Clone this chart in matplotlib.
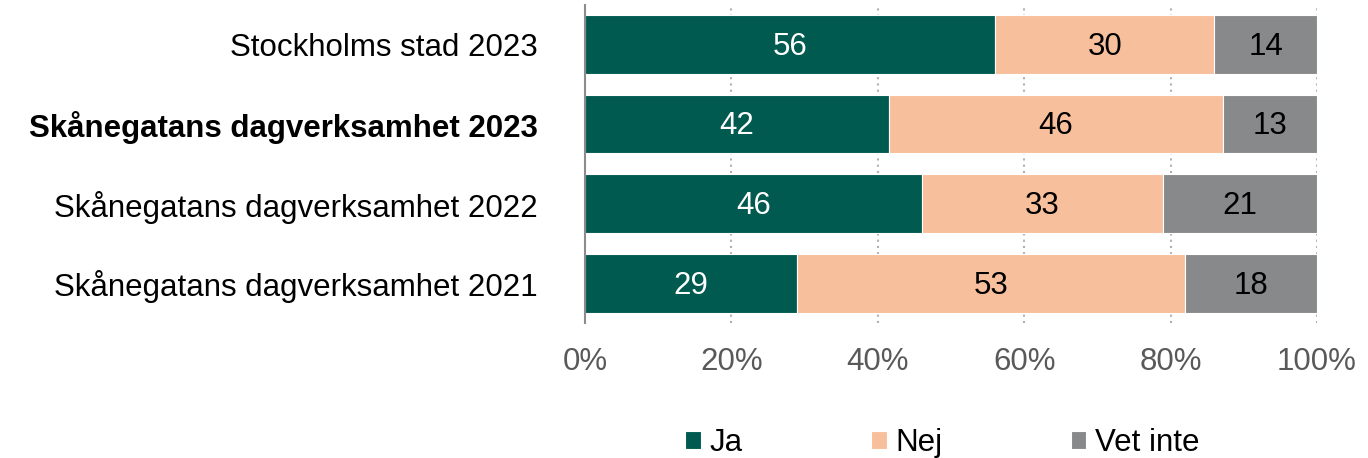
import matplotlib
matplotlib.use("Agg")
import matplotlib.pyplot as plt
import numpy as np

plt.rcParams["font.family"] = ["Liberation Sans", "DejaVu Sans"]

groups = [
    "Stockholms stad 2023",
    "Skånegatans dagverksamhet 2023",
    "Skånegatans dagverksamhet 2022",
    "Skånegatans dagverksamhet 2021",
]
ja = [56, 42, 46, 29]
nej = [30, 46, 33, 53]
vet_inte = [14, 13, 21, 18]
series_names = ["Ja", "Nej", "Vet inte"]
colors = ["#005a4f", "#f8bf9c", "#87898b"]
label_colors = ["white", "black", "black"]

data = np.array([ja, nej, vet_inte], dtype=float)
shares = data / data.sum(axis=0) * 100

FS = 22.5

fig = plt.figure(figsize=(13.68, 4.58), dpi=100)
ax = fig.add_axes([0.4276, 0.2948, 0.5351, 0.6950])

y = np.arange(len(groups))
left = np.zeros(len(groups))
for i, name in enumerate(series_names):
    bars = ax.barh(y, shares[i], left=left, height=0.74, color=colors[i],
                   edgecolor="white", linewidth=0.8, label=name, zorder=2)
    for b, val in zip(bars, data[i]):
        ax.text(b.get_x() + b.get_width() / 2, b.get_y() + b.get_height() / 2 + 0.03,
                f"{int(val)}", ha="center", va="center", fontsize=FS,
                color=label_colors[i], zorder=3)
    left += shares[i]

ax.set_xlim(0, 100)
ax.set_ylim(len(groups) - 0.5, -0.5)
ax.set_yticks(y)
ax.set_yticklabels(groups, fontsize=FS)
ax.get_yticklabels()[1].set_fontweight("bold")
ax.set_xticks(np.arange(0, 101, 20))
ax.set_xticklabels([f"{v}%" for v in range(0, 101, 20)], fontsize=FS, color="#595959")
ax.tick_params(axis="y", length=0, pad=34)
ax.tick_params(axis="x", length=0, pad=17)
ax.xaxis.grid(True, linestyle=(0, (1, 2)), color="#b0b0b0", linewidth=1.5, zorder=0)
ax.set_axisbelow(True)
for s in ["top", "right", "bottom"]:
    ax.spines[s].set_visible(False)
ax.spines["left"].set_color("#8c8c8c")
ax.spines["left"].set_linewidth(1.5)

fig.legend(loc="center", bbox_to_anchor=(0.689, 0.033), ncol=3, frameon=False,
           fontsize=FS, handlelength=0.5, handleheight=0.5, handletextpad=0.28,
           columnspacing=4.1)

fig.savefig("out.png", dpi=100)
